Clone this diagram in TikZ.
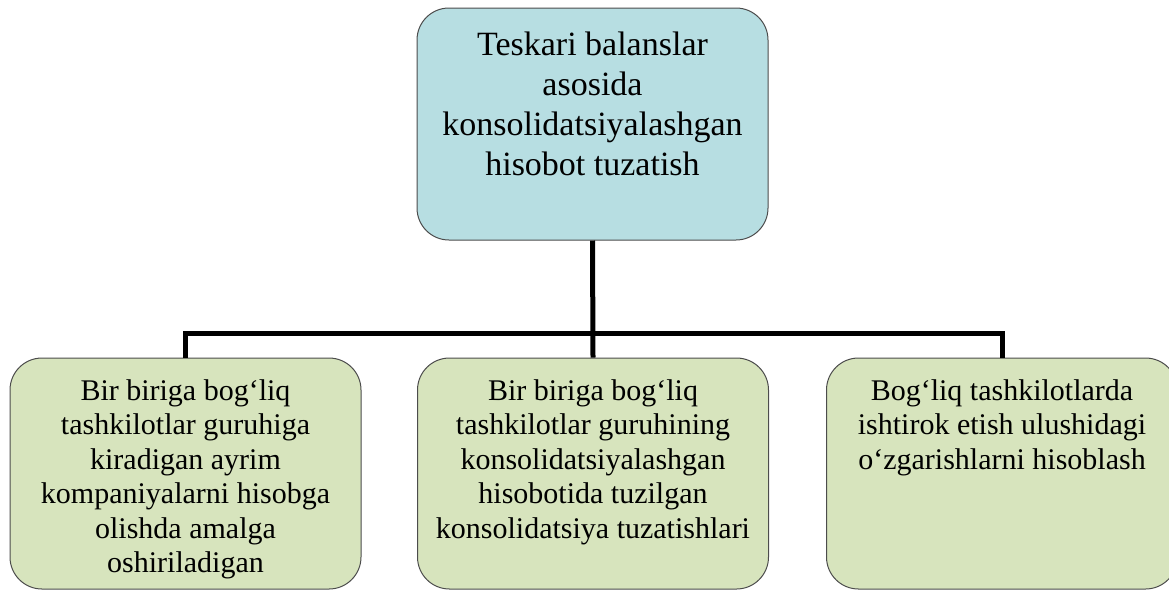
\documentclass[tikz,border=0pt]{standalone}
\usepackage{fontspec}
\setmainfont{Liberation Serif}
\usetikzlibrary{positioning}
\definecolor{topfill}{HTML}{B7DEE2}
\definecolor{subfill}{HTML}{D7E4BD}

\begin{document}
\begin{tikzpicture}[
    x=1pt, y=-1pt,
    box/.style={draw=black!70, line width=1pt, rounded corners=32pt,
      minimum width=351pt, inner sep=0pt},
    topbox/.style={box, fill=topfill, minimum height=232pt},
    subbox/.style={box, fill=subfill, minimum height=231pt},
    toptext/.style={align=center, inner sep=0pt,
      font=\fontsize{34}{40}\selectfont},
    subtext/.style={align=center, inner sep=0pt,
      font=\fontsize{30}{34.5}\selectfont},
    link/.style={line width=5pt}
  ]

  \useasboundingbox (0,0) rectangle (1169,590);

  % boxes
  \node [topbox] (top) at (592.5,124) {};
  \node [subbox] (left) at (185.5,473.5) {};
  \node [subbox] (mid) at (593,473.5) {};
  \node [subbox] (right) at (1002,473.5) {};

  % texts
  \node [toptext, below=24pt of top.north] (toplabel)
  {Teskari balanslar\\asosida\\konsolidatsiyalashgan\\hisobot tuzatish};
  \node [subtext, below=21.5pt of left.north] (leftlabel)
  {Bir biriga bog‘liq\\tashkilotlar guruhiga\\kiradigan ayrim\\kompaniyalarni hisobga\\olishda amalga\\oshiriladigan};
  \node [subtext, below=21.5pt of mid.north] (midlabel)
  {Bir biriga bog‘liq\\tashkilotlar guruhining\\konsolidatsiyalashgan\\hisobotida tuzilgan\\konsolidatsiya tuzatishlari};
  \node [subtext, below=21.5pt of right.north] (rightlabel)
  {Bog‘liq tashkilotlarda\\ishtirok etish ulushidagi\\o‘zgarishlarni hisoblash};

  % connectors
  \coordinate (bus) at (593,333);
  \draw [link] (top.south) -- (mid.north);
  \draw [link] (left.north) |- (bus) -| (right.north);

\end{tikzpicture}
\end{document}
